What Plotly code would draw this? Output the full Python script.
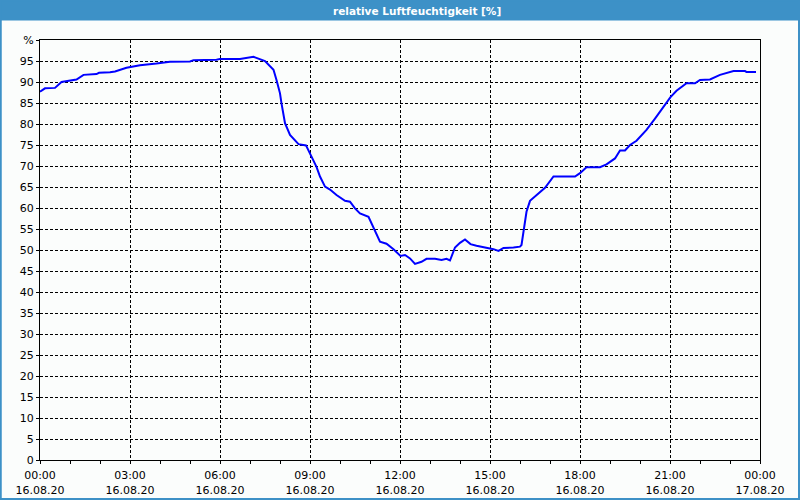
import plotly.graph_objects as go

# ---- data ----
times = ["00:00", "00:10", "00:30", "00:43", "01:13", "01:27", "01:53", "01:58", "02:20", "02:30",
         "02:53", "03:20", "03:53", "04:20", "05:00", "05:07", "05:53", "06:00", "06:40", "07:00",
         "07:07", "07:30", "07:47", "07:53", "08:00", "08:03", "08:10", "08:20", "08:37", "08:52",
         "09:03", "09:13", "09:20", "09:30", "09:40", "09:53", "10:10", "10:20", "10:30", "10:40",
         "10:57", "11:03", "11:10", "11:20", "11:33", "11:47", "12:01", "12:10", "12:20", "12:30",
         "12:43", "12:53", "13:10", "13:23", "13:33", "13:40", "13:50", "14:00", "14:10", "14:21",
         "14:33", "14:53", "15:07", "15:17", "15:27", "15:47", "16:00", "16:03", "16:08", "16:13",
         "16:20", "16:33", "16:50", "17:07", "17:50", "18:00", "18:13", "18:40", "18:53", "19:10",
         "19:20", "19:30", "19:40", "19:53", "20:13", "20:30", "20:47", "21:01", "21:13", "21:33",
         "21:50", "22:00", "22:20", "22:40", "23:07", "23:30", "23:33", "23:52"]
humidity = [87.7, 88.5, 88.6, 90.0, 90.6, 91.7, 91.9, 92.2, 92.3, 92.5,
            93.4, 94.0, 94.4, 94.8, 94.9, 95.2, 95.3, 95.5, 95.5, 95.8,
            96.0, 95.0, 92.9, 90.5, 87.3, 84.9, 80.2, 77.4, 75.2, 74.9,
            72.2, 69.8, 67.5, 65.1, 64.4, 63.1, 61.7, 61.5, 59.9, 58.7,
            57.9, 56.4, 54.4, 52.0, 51.5, 50.2, 48.6, 48.8, 48.0, 46.7,
            47.2, 47.9, 47.9, 47.6, 47.9, 47.5, 50.6, 51.7, 52.5, 51.4,
            51.0, 50.6, 50.2, 49.8, 50.5, 50.6, 50.8, 51.2, 54.8, 59.1,
            61.7, 63.1, 64.8, 67.5, 67.5, 68.3, 69.7, 69.7, 70.4, 71.8,
            73.7, 73.7, 75.0, 76.0, 78.6, 81.3, 84.1, 86.4, 87.9, 89.7,
            89.7, 90.5, 90.6, 91.7, 92.6, 92.6, 92.4, 92.4]
day = "2020-08-16"
y_ticks = list(range(0, 101, 5))
y_labels = [str(v) for v in range(0, 100, 5)] + ["%"]
x_ticks = ["2020-08-16 00:00", "2020-08-16 03:00", "2020-08-16 06:00", "2020-08-16 09:00",
           "2020-08-16 12:00", "2020-08-16 15:00", "2020-08-16 18:00", "2020-08-16 21:00",
           "2020-08-17 00:00"]
title_text = "relative Luftfeuchtigkeit [%]"

# ---- layout geometry ----
W, H = 800, 500
ML, MR, MT, MB = 40, 40, 40, 40
PW, PH = W - ML - MR, H - MT - MB


def px(x):
    return (x - ML) / PW


def py(y):
    return (H - MB - y) / PH


BAR = "#3d91c7"
BG = "#fbfdfc"
FONT = "DejaVu Sans"

x_vals = [f"{day} {t}" for t in times]

fig = go.Figure()
fig.add_trace(go.Scatter(x=x_vals, y=humidity, mode="lines",
                         line=dict(color="#0000ff", width=2), hoverinfo="skip",
                         showlegend=False))

fig.update_layout(
    width=W, height=H,
    margin=dict(l=ML, r=MR, t=MT, b=MB, autoexpand=False),
    paper_bgcolor=BG, plot_bgcolor=BG,
    font=dict(family=FONT, size=11, color="#000000"),
    showlegend=False,
)

fig.update_xaxes(
    type="date",
    range=["2020-08-16 00:00", "2020-08-17 00:00"],
    tickmode="array", tickvals=x_ticks,
    tickformat="%H:%M<br>%d.%m.%y",
    ticks="outside", ticklen=3, tickcolor="#000000",
    minor=dict(dtick=3600000, ticks="outside", ticklen=3, tickcolor="#000000", showgrid=False),
    showline=True, linecolor="#000000", linewidth=1, mirror=True,
    showgrid=True, gridcolor="#000000", gridwidth=1, griddash="3px,2px",
    zeroline=False, fixedrange=True, automargin=False,
    ticklabelstandoff=2,
    tickfont=dict(family=FONT, size=11, color="#000000"),
)
fig.update_yaxes(
    range=[0, 100],
    tickmode="array", tickvals=y_ticks, ticktext=y_labels,
    ticks="outside", ticklen=3, tickcolor="#000000",
    showline=True, linecolor="#000000", linewidth=1, mirror=True,
    showgrid=True, gridcolor="#000000", gridwidth=1, griddash="3px,2px",
    zeroline=False, fixedrange=True, automargin=False,
    tickfont=dict(family=FONT, size=11, color="#000000"),
)

# title bar and window border
fig.add_shape(type="rect", xref="paper", yref="paper",
              x0=px(0), x1=px(W), y0=py(20.5), y1=py(0),
              fillcolor=BAR, line=dict(width=0), layer="below")
fig.add_shape(type="rect", xref="paper", yref="paper",
              x0=px(0.75), x1=px(W - 1), y0=py(H - 1), y1=py(0.75),
              fillcolor="rgba(0,0,0,0)", line=dict(color=BAR, width=2), layer="above")
fig.add_annotation(xref="paper", yref="paper", x=px(417), y=py(10.5),
                   text=f"<b>{title_text}</b>", showarrow=False,
                   xanchor="center", yanchor="middle",
                   font=dict(family=FONT, size=10.5, color="#ffffff"))

fig.write_html("out.html")
